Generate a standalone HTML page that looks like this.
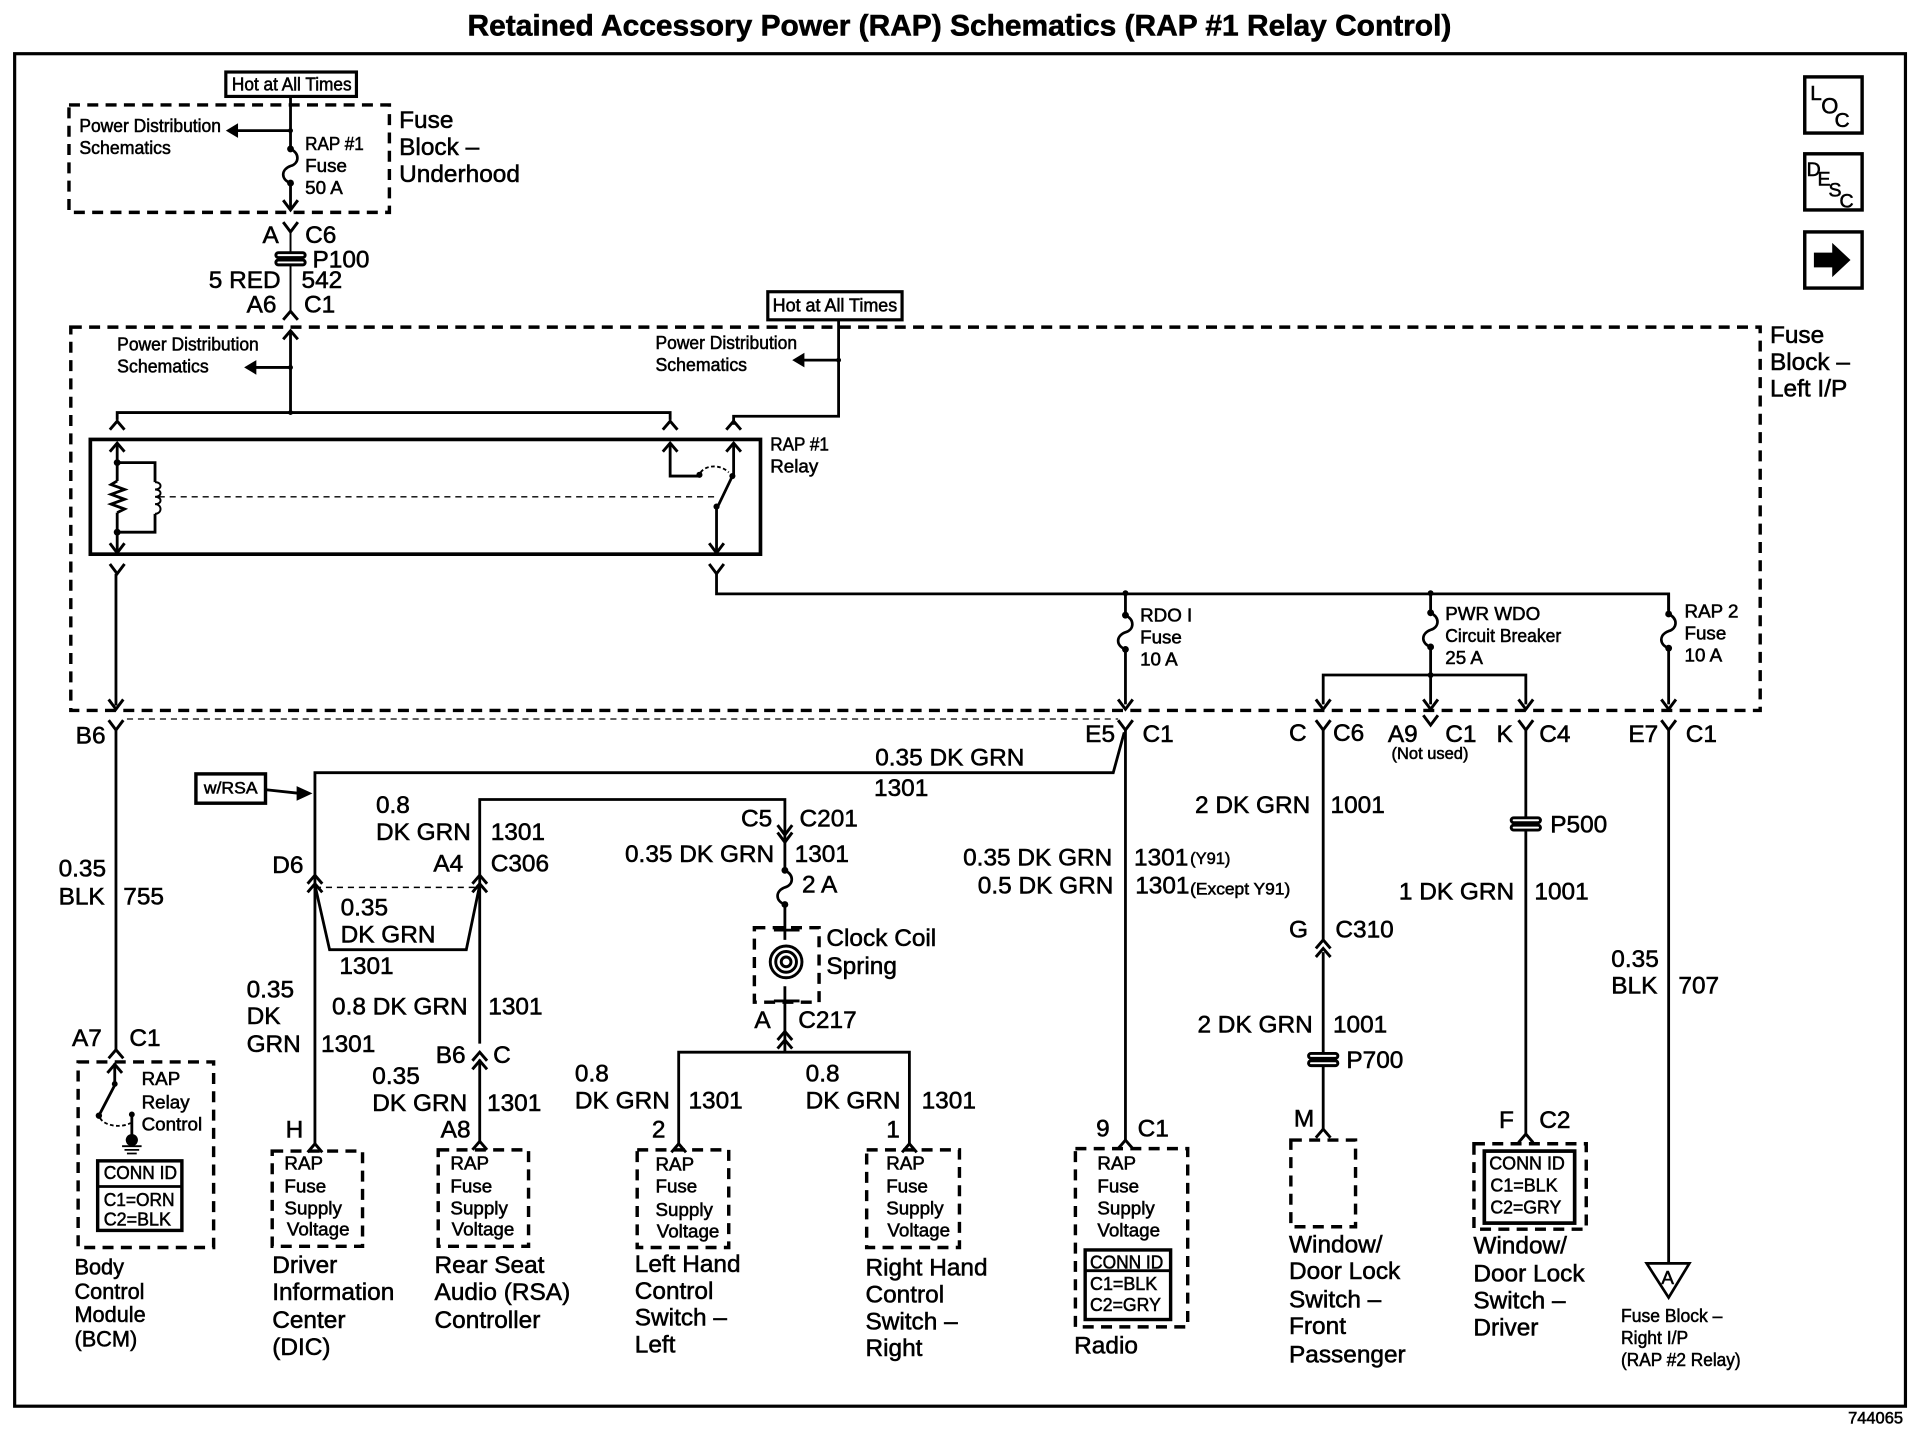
<!DOCTYPE html>
<html><head><meta charset="utf-8"><title>Retained Accessory Power (RAP) Schematics</title>
<style>
html,body{margin:0;padding:0;background:#fff}
svg{display:block}
text{font-family:"Liberation Sans",Arial,sans-serif;fill:#000;stroke:#000;stroke-width:.45}
.b{font-size:20px}.m{font-size:17.8px}.s{font-size:15.4px}.x{font-size:13.5px}
.l{fill:none;stroke:#000;stroke-width:2.3}
.t{fill:none;stroke:#000;stroke-width:1.6}
.d{fill:none;stroke:#000;stroke-width:2.8;stroke-dasharray:9 6}
.d2{fill:none;stroke:#000;stroke-width:1.2;stroke-dasharray:5 4}
.o{fill:#000;stroke:none}
</style></head><body>
<svg xmlns="http://www.w3.org/2000/svg" width="1914" height="1456" viewBox="0 0 1568 1192.8">
<defs>
<path id="cu" d="M-6 7L0 0L6 7" fill="none" stroke="#000" stroke-width="2.4"/>
<path id="cd" d="M-6 -8L0 0L6 -8" fill="none" stroke="#000" stroke-width="2.4"/>
<g id="du"><path d="M-6 7L0 0L6 7M-6 14L0 7L6 14" fill="none" stroke="#000" stroke-width="2.4"/></g>
<g id="fu"><path d="M0 0C8 4 7 12 0 14C-8 17 -8 25 0 28" fill="none" stroke="#000" stroke-width="2.2"/><circle cx="0" cy="0" r="2.8"/><circle cx="0" cy="28" r="2.8"/></g>
<g id="pp"><rect x="-12" y="-5" width="24" height="4" rx="2" fill="#fff" stroke="#000" stroke-width="2.4"/><rect x="-12" y="1" width="24" height="4" rx="2" fill="#fff" stroke="#000" stroke-width="2.4"/></g>
</defs>
<rect width="1568" height="1193" fill="#fff"/>
<text x="383" y="29" font-size="24" font-weight="700" textLength="806" lengthAdjust="spacingAndGlyphs">Retained Accessory Power (RAP) Schematics (RAP #1 Relay Control)</text>
<rect x="12" y="44" width="1549" height="1108" fill="none" stroke="#000" stroke-width="2.6"/>

<!-- top fuse block -->
<rect x="56.5" y="86" width="262.5" height="88" class="d"/>
<rect x="185" y="59" width="107" height="20" fill="#fff" stroke="#000" stroke-width="2.6"/>
<text x="190" y="74" class="s" textLength="98" lengthAdjust="spacingAndGlyphs">Hot at All Times</text>
<path class="l" d="M238 79V122M238 151V172M238 107H192"/>
<circle cx="238" cy="107" r="2"/>
<use href="#fu" x="238" y="122"/>
<path class="o" d="M185 107L195 101V113Z"/>
<use href="#cd" x="238" y="172"/>
<text x="65" y="108" class="s" textLength="116" lengthAdjust="spacingAndGlyphs">Power Distribution</text>
<text x="65" y="126" class="s" textLength="75" lengthAdjust="spacingAndGlyphs">Schematics</text>
<text x="250" y="123" class="s" textLength="48" lengthAdjust="spacingAndGlyphs">RAP #1</text>
<text x="250" y="141" class="s">Fuse</text>
<text x="250" y="159" class="s">50 A</text>
<text x="327" y="105" class="b">Fuse</text>
<text x="327" y="127" class="b">Block –</text>
<text x="327" y="149" class="b">Underhood</text>
<path class="t" d="M238 190V255"/><use href="#cd" x="238" y="190"/><use href="#cu" x="238" y="255"/>
<use href="#pp" x="238" y="212"/>
<text x="215" y="199" class="b">A</text><text x="250" y="199" class="b">C6</text>
<text x="256" y="219" class="b">P100</text>
<text x="171" y="236" class="b">5 RED</text><text x="247" y="236" class="b">542</text>
<text x="202" y="256" class="b">A6</text><text x="249" y="256" class="b">C1</text>

<!-- left I/P block -->
<rect x="58" y="268" width="1384" height="314" class="d"/>
<rect x="629" y="239" width="110" height="23" fill="#fff" stroke="#000" stroke-width="2.6"/>
<text x="633" y="255" class="s" textLength="102" lengthAdjust="spacingAndGlyphs">Hot at All Times</text>
<text x="1450" y="281" class="b">Fuse</text><text x="1450" y="303" class="b">Block –</text><text x="1450" y="325" class="b">Left I/P</text>
<text x="96" y="287" class="s" textLength="116" lengthAdjust="spacingAndGlyphs">Power Distribution</text>
<text x="96" y="305" class="s" textLength="75" lengthAdjust="spacingAndGlyphs">Schematics</text>
<text x="537" y="286" class="s" textLength="116" lengthAdjust="spacingAndGlyphs">Power Distribution</text>
<text x="537" y="304" class="s" textLength="75" lengthAdjust="spacingAndGlyphs">Schematics</text>
<path class="l" d="M238 272V338M96 344V338H549V344M238 301H208M687 262V341H601V348M687 295H657"/>
<use href="#cu" x="238" y="271"/><circle cx="238" cy="301" r="2"/><circle cx="238" cy="338" r="2"/><circle cx="687" cy="295" r="2"/>
<path class="o" d="M200 301L210 295V307Z"/><path class="o" d="M649 295L659 289V301Z"/>
<use href="#cu" x="96" y="345"/><use href="#cu" x="549" y="345"/><use href="#cu" x="601" y="345"/>

<!-- relay -->
<rect x="74" y="360" width="549" height="94" fill="none" stroke="#000" stroke-width="3"/>
<text x="631" y="369" class="s" textLength="48" lengthAdjust="spacingAndGlyphs">RAP #1</text><text x="631" y="387" class="s">Relay</text>
<path class="l" d="M96 364V394M96 420V452M96 379H127V395M127 421V436H96"/>
<use href="#cu" x="96" y="363"/><use href="#cd" x="96" y="453"/>
<circle cx="96" cy="379" r="2.8"/><circle cx="96" cy="436" r="2.8"/>
<path class="l" d="M96 394L91 397L102 401L91 405L102 409L91 413L102 417L96 420"/>
<path class="t" d="M127 395C133 395 133 401 127 401C133 401 133 407 127 407C133 407 133 413 127 413C133 413 133 421 127 421"/>
<path class="d2" d="M130 407H585"/>
<path class="l" d="M549 364V390H573M601 364V390M600 390L588 415M587 415V452"/>
<use href="#cu" x="549" y="363"/><use href="#cu" x="601" y="363"/><use href="#cd" x="587" y="453"/>
<circle cx="573" cy="389" r="2.5"/><circle cx="600" cy="390" r="2.5"/><circle cx="587" cy="415" r="2.5"/>
<path d="M574 387C578 381 590 380 597 387" fill="none" stroke="#000" stroke-width="1.5" stroke-dasharray="3 2"/>
<use href="#cd" x="96" y="470"/><use href="#cd" x="587" y="470"/>
<path class="l" d="M95 470V578M587 470V486.5H1367V500"/>
<use href="#cd" x="95" y="581"/>

<!-- fuses in left I/P -->
<path class="l" d="M922 486V504M922 532V577M1172 486V502M1172 530V577M1084 577V553H1250V577M1367 486V503M1367 531V577"/>
<circle cx="922" cy="486" r="2.4"/><circle cx="1172" cy="486" r="2.4"/><circle cx="1172" cy="553" r="2.4"/>
<use href="#fu" x="922" y="504"/><use href="#fu" x="1172" y="502"/><use href="#fu" x="1367" y="503"/>
<use href="#cd" x="922" y="581"/><use href="#cd" x="1172" y="581"/><use href="#cd" x="1084" y="581"/><use href="#cd" x="1250" y="581"/><use href="#cd" x="1367" y="581"/>
<text x="934" y="509" class="s">RDO I</text><text x="934" y="527" class="s">Fuse</text><text x="934" y="545" class="s">10 A</text>
<text x="1184" y="508" class="s">PWR WDO</text><text x="1184" y="526" class="s" textLength="95" lengthAdjust="spacingAndGlyphs">Circuit Breaker</text><text x="1184" y="544" class="s">25 A</text>
<text x="1380" y="506" class="s">RAP 2</text><text x="1380" y="524" class="s">Fuse</text><text x="1380" y="542" class="s">10 A</text>

<!-- side icons -->
<rect x="1478.5" y="63" width="47" height="46" fill="none" stroke="#000" stroke-width="2.8"/>
<text x="1483" y="82" font-size="17">L</text><text x="1492" y="93" font-size="18">O</text><text x="1503" y="104" font-size="17">C</text>
<rect x="1478.5" y="126" width="47" height="46" fill="none" stroke="#000" stroke-width="2.8"/>
<text x="1480" y="144" font-size="16">D</text><text x="1489" y="152" font-size="16">E</text><text x="1498" y="161" font-size="16">S</text><text x="1507" y="170" font-size="16">C</text>
<rect x="1478.5" y="190" width="47" height="46" fill="none" stroke="#000" stroke-width="2.8"/>
<path class="o" d="M1486 207H1501V199L1516 213L1501 227V219H1486Z"/>

<!-- connector row -->
<path class="d2" style="stroke-width:1" d="M104 589H916"/>
<use href="#cd" x="95" y="598"/><use href="#cd" x="922" y="598"/><use href="#cd" x="1084" y="598"/><use href="#cd" x="1172" y="594"/><use href="#cd" x="1250" y="598"/><use href="#cd" x="1367" y="598"/>
<text x="62" y="609" class="b">B6</text><text x="889" y="608" class="b">E5</text><text x="936" y="608" class="b">C1</text>
<text x="1056" y="607" class="b">C</text><text x="1092" y="607" class="b">C6</text>
<text x="1137" y="608" class="b">A9</text><text x="1184" y="608" class="b">C1</text><text x="1140" y="622" class="x">(Not used)</text>
<text x="1226" y="608" class="b">K</text><text x="1261" y="608" class="b">C4</text>
<text x="1334" y="608" class="b">E7</text><text x="1381" y="608" class="b">C1</text>

<!-- BCM -->
<path class="l" d="M95 598V861"/>
<text x="48" y="718" class="b">0.35</text><text x="48" y="741" class="b">BLK</text><text x="101" y="741" class="b">755</text>
<text x="59" y="857" class="b">A7</text><text x="106" y="857" class="b">C1</text>
<use href="#cu" x="95" y="860"/>
<rect x="64" y="870" width="111" height="152" class="d"/>
<path class="l" d="M94 871V889L81 914"/><use href="#cu" x="94" y="872"/>
<circle cx="94" cy="888" r="2.4"/><circle cx="81" cy="914" r="2.6"/><circle cx="108" cy="913" r="2.4"/>
<path d="M82 916C86 923 100 924 107 920" fill="none" stroke="#000" stroke-width="1.5" stroke-dasharray="3 2"/>
<path class="l" d="M108 913V932"/><circle cx="108" cy="934" r="5"/><path class="l" style="stroke-width:1.5" d="M100 939H116M102 942H114M104 945H112"/>
<text x="116" y="889" class="s">RAP</text><text x="116" y="908" class="s">Relay</text><text x="116" y="926" class="s">Control</text>
<rect x="80" y="951" width="69" height="57" fill="none" stroke="#000" stroke-width="2.8"/><path class="l" d="M80 972H149"/>
<text x="85" y="966" class="s" textLength="60" lengthAdjust="spacingAndGlyphs">CONN ID</text><text x="85" y="988" class="s" textLength="58" lengthAdjust="spacingAndGlyphs">C1=ORN</text><text x="85" y="1004" class="s" textLength="55" lengthAdjust="spacingAndGlyphs">C2=BLK</text>
<text x="61" y="1044" class="m">Body</text><text x="61" y="1064" class="m">Control</text><text x="61" y="1083" class="m">Module</text><text x="61" y="1103" class="m">(BCM)</text>

<!-- w/RSA -->
<rect x="160.5" y="634" width="57" height="24" fill="none" stroke="#000" stroke-width="2.8"/>
<text x="167" y="650" class="x" textLength="44" lengthAdjust="spacingAndGlyphs">w/RSA</text>
<path class="l" d="M218 647L246 650"/><path class="o" d="M256 650L243 644V656Z"/>
<path class="l" d="M258 724V633H912L921 600"/>
<text x="717" y="627" class="b">0.35 DK GRN</text><text x="716" y="652" class="b">1301</text>
<text x="223" y="715" class="b">D6</text>
<use href="#du" x="258" y="717"/>
<path class="l" d="M393 724V655H643V688"/>
<use href="#du" x="393" y="717"/>
<path class="d2" d="M258 727H393"/>
<path class="l" d="M258 725L270 778H382L393 725"/>
<text x="308" y="666" class="b">0.8</text><text x="308" y="688" class="b">DK GRN</text><text x="402" y="688" class="b">1301</text>
<text x="355" y="714" class="b">A4</text><text x="402" y="714" class="b">C306</text>
<text x="279" y="750" class="b">0.35</text><text x="279" y="772" class="b">DK GRN</text><text x="278" y="798" class="b">1301</text>
<text x="202" y="817" class="b">0.35</text><text x="202" y="839" class="b">DK</text><text x="202" y="862" class="b">GRN</text><text x="263" y="862" class="b">1301</text>
<text x="272" y="831" class="b">0.8 DK GRN</text><text x="400" y="831" class="b">1301</text>
<text x="357" y="871" class="b">B6</text><text x="404" y="871" class="b">C</text>
<text x="305" y="888" class="b">0.35</text><text x="305" y="910" class="b">DK GRN</text><text x="399" y="910" class="b">1301</text>
<text x="361" y="932" class="b">A8</text><text x="234" y="932" class="b">H</text>
<path class="l" d="M258 724V938M393 724V855M393 868V937"/>
<use href="#du" x="393" y="862"/><use href="#cu" x="258" y="937"/><use href="#cu" x="393" y="935"/>

<!-- clock spring -->
<use href="#cd" x="643" y="684"/><use href="#cd" x="643" y="690"/>
<path class="l" d="M643 690V713M643 741V770M643 808V850"/>
<use href="#fu" x="643" y="713"/>
<text x="607" y="677" class="b">C5</text><text x="655" y="677" class="b">C201</text>
<text x="512" y="706" class="b">0.35 DK GRN</text><text x="651" y="706" class="b">1301</text><text x="657" y="731" class="b">2 A</text>
<rect x="618" y="760" width="53" height="61" class="d"/>
<path class="l" d="M634 762H655M634 820H655"/>
<circle cx="644" cy="788" r="13" fill="#fff" stroke="#000" stroke-width="2.4"/><circle cx="644" cy="788" r="8.5" fill="none" stroke="#000" stroke-width="2.4"/><circle cx="644" cy="788" r="4" fill="none" stroke="#000" stroke-width="2.4"/>
<text x="677" y="775" class="b">Clock Coil</text><text x="677" y="798" class="b">Spring</text>
<text x="618" y="842" class="b">A</text><text x="654" y="842" class="b">C217</text>
<use href="#du" x="643" y="845"/>
<path class="l" d="M556 938V862H745V938M643 850V862"/>
<use href="#cu" x="556" y="937"/><use href="#cu" x="745" y="937"/>
<text x="471" y="886" class="b">0.8</text><text x="471" y="908" class="b">DK GRN</text><text x="564" y="908" class="b">1301</text><text x="534" y="932" class="b">2</text>
<text x="660" y="886" class="b">0.8</text><text x="660" y="908" class="b">DK GRN</text><text x="755" y="908" class="b">1301</text><text x="726" y="932" class="b">1</text>

<!-- module boxes -->
<rect x="223" y="943" width="74" height="78" class="d"/>
<text x="233" y="958" class="s">RAP</text><text x="233" y="977" class="s">Fuse</text><text x="233" y="995" class="s">Supply</text><text x="235" y="1012" class="s">Voltage</text>
<rect x="359" y="942" width="74" height="79" class="d"/>
<text x="369" y="958" class="s">RAP</text><text x="369" y="977" class="s">Fuse</text><text x="369" y="995" class="s">Supply</text><text x="370" y="1012" class="s">Voltage</text>
<rect x="522" y="942" width="75" height="80" class="d"/>
<text x="537" y="959" class="s">RAP</text><text x="537" y="977" class="s">Fuse</text><text x="537" y="996" class="s">Supply</text><text x="538" y="1014" class="s">Voltage</text>
<rect x="710" y="942" width="76" height="80" class="d"/>
<text x="726" y="958" class="s">RAP</text><text x="726" y="977" class="s">Fuse</text><text x="726" y="995" class="s">Supply</text><text x="727" y="1013" class="s">Voltage</text>
<text x="223" y="1043" class="b">Driver</text><text x="223" y="1065" class="b">Information</text><text x="223" y="1088" class="b">Center</text><text x="223" y="1110" class="b">(DIC)</text>
<text x="356" y="1043" class="b">Rear Seat</text><text x="356" y="1065" class="b">Audio (RSA)</text><text x="356" y="1088" class="b">Controller</text>
<text x="520" y="1042" class="b">Left Hand</text><text x="520" y="1064" class="b">Control</text><text x="520" y="1086" class="b">Switch –</text><text x="520" y="1108" class="b">Left</text>
<text x="709" y="1045" class="b">Right Hand</text><text x="709" y="1067" class="b">Control</text><text x="709" y="1089" class="b">Switch –</text><text x="709" y="1111" class="b">Right</text>

<!-- Radio -->
<path class="l" d="M922 598V935"/><use href="#cu" x="922" y="934"/>
<text x="789" y="709" class="b">0.35 DK GRN</text><text x="929" y="709" class="b">1301</text><text x="975" y="708" class="x">(Y91)</text>
<text x="801" y="732" class="b">0.5 DK GRN</text><text x="930" y="732" class="b">1301</text><text x="975" y="733" class="x" textLength="82" lengthAdjust="spacingAndGlyphs">(Except Y91)</text>
<text x="898" y="931" class="b">9</text><text x="932" y="931" class="b">C1</text>
<rect x="881" y="941" width="92" height="146" class="d"/>
<text x="899" y="958" class="s">RAP</text><text x="899" y="977" class="s">Fuse</text><text x="899" y="995" class="s">Supply</text><text x="899" y="1013" class="s">Voltage</text>
<rect x="889" y="1024" width="70" height="57" fill="none" stroke="#000" stroke-width="2.8"/><path class="l" d="M889 1041H959"/>
<text x="893" y="1039" class="s" textLength="60" lengthAdjust="spacingAndGlyphs">CONN ID</text><text x="893" y="1057" class="s" textLength="55" lengthAdjust="spacingAndGlyphs">C1=BLK</text><text x="893" y="1074" class="s" textLength="58" lengthAdjust="spacingAndGlyphs">C2=GRY</text>
<text x="880" y="1109" class="b">Radio</text>

<!-- Front passenger -->
<path class="l" d="M1084 598V770M1084 780V925"/><use href="#du" x="1084" y="770"/>
<use href="#pp" x="1084" y="868"/><use href="#cu" x="1084" y="925"/>
<text x="979" y="666" class="b">2 DK GRN</text><text x="1090" y="666" class="b">1001</text>
<text x="1056" y="768" class="b">G</text><text x="1094" y="768" class="b">C310</text>
<text x="981" y="846" class="b">2 DK GRN</text><text x="1092" y="846" class="b">1001</text>
<text x="1103" y="875" class="b">P700</text><text x="1060" y="923" class="b">M</text>
<rect x="1057.5" y="934" width="53" height="71" class="d"/>
<text x="1056" y="1026" class="b">Window/</text><text x="1056" y="1048" class="b">Door Lock</text><text x="1056" y="1071" class="b">Switch –</text><text x="1056" y="1093" class="b">Front</text><text x="1056" y="1116" class="b">Passenger</text>

<!-- Driver switch -->
<path class="l" d="M1250 598V930"/><use href="#cu" x="1250" y="929"/><use href="#pp" x="1250" y="675"/>
<text x="1270" y="682" class="b">P500</text>
<text x="1146" y="737" class="b">1 DK GRN</text><text x="1257" y="737" class="b">1001</text>
<text x="1228" y="924" class="b">F</text><text x="1261" y="924" class="b">C2</text>
<rect x="1207.5" y="937" width="92" height="70" class="d"/>
<rect x="1216" y="943" width="74" height="59" fill="none" stroke="#000" stroke-width="3"/>
<text x="1220" y="958" class="s" textLength="62" lengthAdjust="spacingAndGlyphs">CONN ID</text><text x="1221" y="976" class="s" textLength="55" lengthAdjust="spacingAndGlyphs">C1=BLK</text><text x="1221" y="994" class="s" textLength="58" lengthAdjust="spacingAndGlyphs">C2=GRY</text>
<text x="1207" y="1027" class="b">Window/</text><text x="1207" y="1050" class="b">Door Lock</text><text x="1207" y="1072" class="b">Switch –</text><text x="1207" y="1094" class="b">Driver</text>

<!-- Right relay -->
<path class="l" d="M1367 598V1034"/>
<text x="1320" y="792" class="b">0.35</text><text x="1320" y="814" class="b">BLK</text><text x="1375" y="814" class="b">707</text>
<path d="M1349 1035H1384L1367 1063Z" fill="#fff" stroke="#000" stroke-width="2.2"/>
<text x="1361" y="1052" class="s">A</text>
<text x="1328" y="1083" class="s" textLength="83" lengthAdjust="spacingAndGlyphs">Fuse Block –</text><text x="1328" y="1101" class="s" textLength="55" lengthAdjust="spacingAndGlyphs">Right I/P</text><text x="1328" y="1119" class="s" textLength="98" lengthAdjust="spacingAndGlyphs">(RAP #2 Relay)</text>
<text x="1514" y="1166" class="x">744065</text>
</svg>
</body></html>
